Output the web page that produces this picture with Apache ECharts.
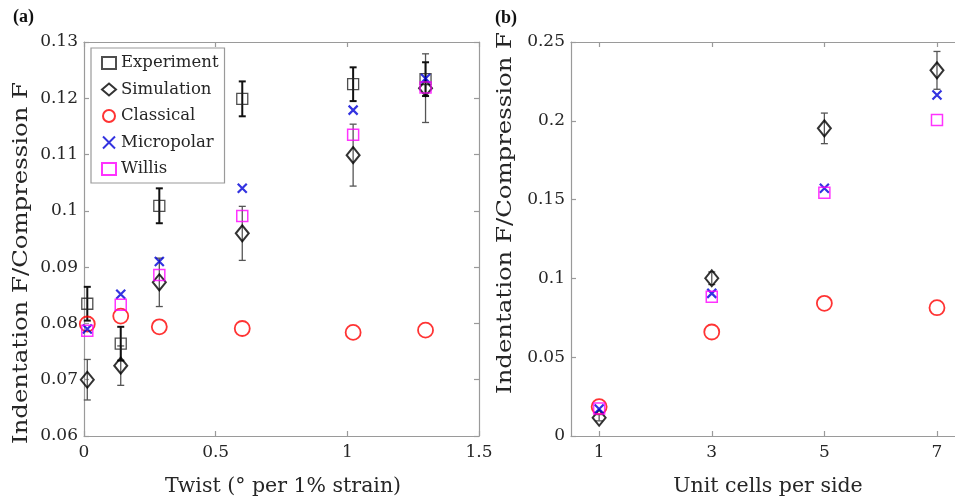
<!DOCTYPE html>
<html>
<head>
<meta charset="utf-8">
<script src="https://cdn.jsdelivr.net/npm/echarts@6/dist/echarts.min.js"></script>
<style>html,body{margin:0;padding:0;background:#fff}#c{width:955px;height:500px}</style>
</head>
<body>
<div id="c"></div>
<script>
// ---- Panel (a): twist ----
var twistX   = [0.0125, 0.1395, 0.286, 0.601, 1.022, 1.297];
var expA     = [0.0835, 0.0764, 0.1009, 0.1199, 0.1225, 0.1234];
var expErrA  = [0.0030, 0.0030, 0.0031, 0.0031, 0.0030, 0.0030];
var simA     = [0.0700, 0.0725, 0.0873, 0.0960, 0.1099, 0.1218];
var simErrA  = [0.0036, 0.0035, 0.0043, 0.0048, 0.0055, 0.0061];
var classA   = [0.0799, 0.0813, 0.0794, 0.0791, 0.0784, 0.0788];
var microA   = [0.0790, 0.0852, 0.0910, 0.1040, 0.1179, 0.1235];
var willisA  = [0.0787, 0.0833, 0.0886, 0.0991, 0.1135, 0.1219];
// ---- Panel (b): unit cells ----
var cellsX   = [1, 3, 5, 7];
var simB     = [0.0116, 0.1001, 0.1952, 0.2320];
var simErrB  = [0.0020, 0.0040, 0.0097, 0.0120];
var classB   = [0.0186, 0.0660, 0.0842, 0.0814];
var microB   = [0.0171, 0.0905, 0.1572, 0.2164];
var willisB  = [0.0175, 0.0884, 0.1544, 0.2005];
var cellTicks = [1, 3, 5, 7];
var seriesNames = ['Experiment', 'Simulation', 'Classical', 'Micropolar', 'Willis'];

var FONT = 'DejaVu Serif';
var TXT = '#262626';
var AX = '#9a9a9a';
var CROSS = 'path://M0,0L10,10M10,0L0,10';

function pairs(xs, ys) { return xs.map(function (x, i) { return [x, ys[i]]; }); }
function errs(xs, ys, es) { return xs.map(function (x, i) { return [x, ys[i] - es[i], ys[i] + es[i]]; }); }
function fmt(v) { return String(+v.toFixed(3)); }

function errSeries(data, xi, yi, color, width, cap) {
  return {
    type: 'custom', xAxisIndex: xi, yAxisIndex: yi, z: 1, silent: true, clip: false,
    data: data,
    encode: { x: 0, y: [1, 2] },
    renderItem: function (params, api) {
      var x = api.value(0);
      var p1 = api.coord([x, api.value(2)]);
      var p2 = api.coord([x, api.value(1)]);
      var st = { stroke: color, lineWidth: width };
      return {
        type: 'group',
        children: [
          { type: 'line', shape: { x1: p1[0], y1: p1[1], x2: p2[0], y2: p2[1] }, style: st },
          { type: 'line', shape: { x1: p1[0] - cap, y1: p1[1], x2: p1[0] + cap, y2: p1[1] }, style: st },
          { type: 'line', shape: { x1: p2[0] - cap, y1: p2[1], x2: p2[0] + cap, y2: p2[1] }, style: st }
        ]
      };
    }
  };
}

var styles = {
  Experiment: { symbol: 'rect', symbolSize: 11, itemStyle: { color: 'rgba(255,255,255,0)', borderColor: '#222', borderWidth: 1.3 } },
  Simulation: { symbol: 'diamond', symbolSize: [13, 16], itemStyle: { color: 'rgba(255,255,255,0)', borderColor: '#000', borderWidth: 2 } },
  Classical:  { symbol: 'circle', symbolSize: 15, itemStyle: { color: 'rgba(255,255,255,0)', borderColor: '#ff0000', borderWidth: 1.8 } },
  Micropolar: { symbol: CROSS, symbolSize: 9, itemStyle: { color: 'rgba(255,255,255,0)', borderColor: '#0000d8', borderWidth: 2.2 } },
  Willis:     { symbol: 'rect', symbolSize: 11, itemStyle: { color: 'rgba(255,255,255,0)', borderColor: '#ff00ff', borderWidth: 1.5 } }
};
function sc(name, data, xi, yi) {
  var s = styles[name];
  return { type: 'scatter', name: name, xAxisIndex: xi, yAxisIndex: yi, z: 3, data: data,
    symbol: s.symbol, symbolSize: s.symbolSize, itemStyle: s.itemStyle, clip: false,
    emphasis: { disabled: true } };
}

function axisBase(extra) {
  var a = {
    type: 'value',
    axisLine: { show: true, onZero: false, lineStyle: { color: AX, width: 1.2 } },
    axisTick: { show: true, inside: true, length: 5, lineStyle: { color: AX, width: 1.2 } },
    splitLine: { show: false },
    axisLabel: { color: TXT, fontFamily: FONT, fontSize: 17, margin: 8, formatter: fmt }
  };
  for (var k in extra) {
    if (typeof extra[k] === 'object' && a[k] && !Array.isArray(extra[k])) {
      for (var j in extra[k]) a[k][j] = extra[k][j];
    } else a[k] = extra[k];
  }
  return a;
}

var option = {
  animation: false,
  backgroundColor: '#fff',
  grid: [
    { left: 84, top: 42, width: 395, height: 394 },
    { left: 571, top: 42, width: 384, height: 394 }
  ],
  xAxis: [
    axisBase({ gridIndex: 0, min: 0, max: 1.5, interval: 0.5, position: 'bottom' }),
    axisBase({ gridIndex: 0, min: 0, max: 1.5, interval: 0.5, position: 'top', axisLabel: { show: false } }),
    axisBase({ gridIndex: 1, min: 0.5, max: 7.32, position: 'bottom',
      axisTick: { customValues: cellTicks }, axisLabel: { customValues: cellTicks } }),
    axisBase({ gridIndex: 1, min: 0.5, max: 7.32, position: 'top',
      axisTick: { customValues: cellTicks }, axisLabel: { show: false } })
  ],
  yAxis: [
    axisBase({ gridIndex: 0, min: 0.06, max: 0.13, interval: 0.01, position: 'left', axisLabel: { margin: 6 } }),
    axisBase({ gridIndex: 0, min: 0.06, max: 0.13, interval: 0.01, position: 'right', axisLabel: { show: false } }),
    axisBase({ gridIndex: 1, min: 0, max: 0.25, interval: 0.05, position: 'left', axisLabel: { margin: 6 } })
  ],
  legend: {
    data: seriesNames,
    orient: 'vertical',
    left: 91, top: 48,
    padding: [5, 6, 4, 10],
    itemGap: 6.5,
    itemWidth: 14, itemHeight: 12,
    backgroundColor: '#fff',
    borderColor: AX, borderWidth: 1.2, borderRadius: 0,
    selectedMode: false,
    textStyle: { color: TXT, fontFamily: FONT, fontSize: 16.5, lineHeight: 20 }
  },
  graphic: [
    { type: 'text', x: 13, y: 8, style: { text: '(a)', fontFamily: 'Liberation Serif', fontWeight: 'bold', fontSize: 18, fill: '#111' } },
    { type: 'text', x: 495, y: 9, style: { text: '(b)', fontFamily: 'Liberation Serif', fontWeight: 'bold', fontSize: 18, fill: '#111' } },
    { type: 'text', x: 283, y: 487, style: { text: 'Twist (\u00b0 per 1% strain)', fontFamily: FONT, fontSize: 20.5, fill: TXT, align: 'center', verticalAlign: 'middle' } },
    { type: 'text', x: 768, y: 487, style: { text: 'Unit cells per side', fontFamily: FONT, fontSize: 20.5, fill: TXT, align: 'center', verticalAlign: 'middle' } },
    { type: 'text', x: 22, y: 263, rotation: Math.PI / 2, scaleX: 1.16, style: { text: 'Indentation F/Compression F', fontFamily: FONT, fontSize: 21, fill: TXT, align: 'center', verticalAlign: 'middle' } },
    { type: 'text', x: 506, y: 213, rotation: Math.PI / 2, scaleX: 1.16, style: { text: 'Indentation F/Compression F', fontFamily: FONT, fontSize: 21, fill: TXT, align: 'center', verticalAlign: 'middle' } }
  ],
  series: [
    errSeries(errs(twistX, simA, simErrA), 0, 0, '#555', 1.3, 3.5),
    errSeries(errs(twistX, expA, expErrA), 0, 0, '#111', 2, 3.5),
    errSeries(errs(cellsX, simB, simErrB), 2, 2, '#555', 1.3, 3.5),
    sc('Experiment', pairs(twistX, expA), 0, 0),
    sc('Simulation', pairs(twistX, simA), 0, 0),
    sc('Classical', pairs(twistX, classA), 0, 0),
    sc('Micropolar', pairs(twistX, microA), 0, 0),
    sc('Willis', pairs(twistX, willisA), 0, 0),
    sc('Simulation', pairs(cellsX, simB), 2, 2),
    sc('Classical', pairs(cellsX, classB), 2, 2),
    sc('Micropolar', pairs(cellsX, microB), 2, 2),
    sc('Willis', pairs(cellsX, willisB), 2, 2)
  ]
};
var chart = echarts.init(document.getElementById('c'), null, { renderer: 'canvas' });
chart.setOption(option);
</script>
</body>
</html>
